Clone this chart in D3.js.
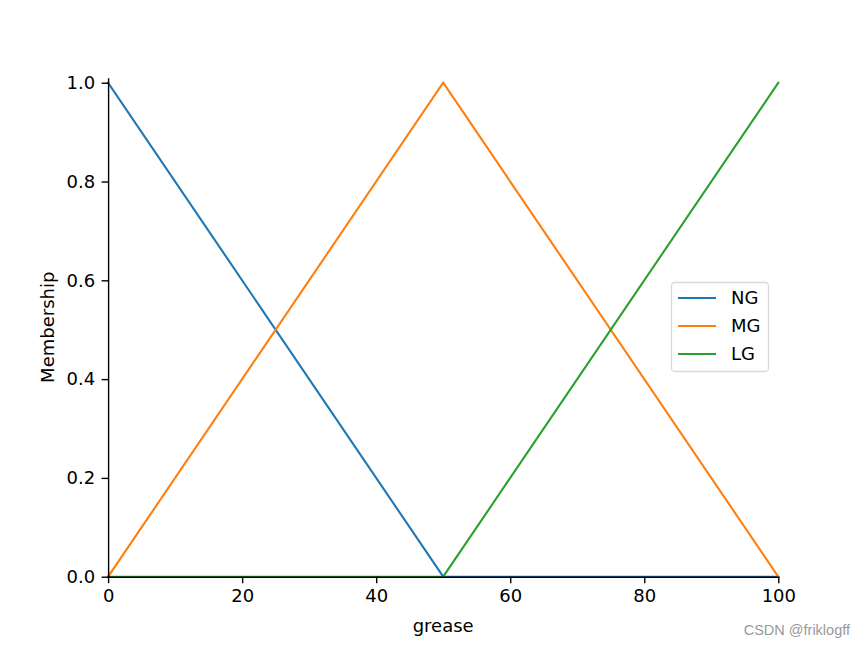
<!DOCTYPE html>
<html>
<head>
<meta charset="utf-8">
<script src="https://cdn.jsdelivr.net/npm/d3@7"></script>
<style>
html,body{margin:0;padding:0;background:#fff;}
svg{display:block;}
</style>
</head>
<body>
<svg id="chart" width="865" height="648"></svg>
<script>
const universe = [0, 50, 100];
const seriesNames = ["NG", "MG", "LG"];
const NG = [1, 0, 0];
const MG = [0, 1, 0];
const LG = [0, 0, 1];
const seriesValues = [NG, MG, LG];
const colors = ["#1f77b4", "#ff7f0e", "#2ca02c"];
const xTicks = [0, 20, 40, 60, 80, 100];
const yTicks = [0.0, 0.2, 0.4, 0.6, 0.8, 1.0];
const xLabel = "grease";
const yLabel = "Membership";
const watermark = "CSDN @friklogff";

const mLeft = 108.1, mRight = 778.3, mTop = 77.8, mBottom = 576.7;
const svg = d3.select("#chart");
const font = "DejaVu Sans, sans-serif";
const fs = 18;

const x = d3.scaleLinear().domain([0, 100]).range([mLeft, mRight]);
const y = d3.scaleLinear().domain([0, 1.01]).range([mBottom, mTop]);

const line = d3.line().x(d => x(d[0])).y(d => y(d[1]));
seriesValues.forEach((vals, i) => {
  svg.append("path")
    .datum(universe.map((u, j) => [u, vals[j]]))
    .attr("d", line)
    .attr("fill", "none")
    .attr("stroke", colors[i])
    .attr("stroke-width", 2.1)
    .attr("stroke-linecap", "square");
});

const xAxis = svg.append("g").attr("transform", `translate(0,${mBottom})`)
  .call(d3.axisBottom(x).tickValues(xTicks).tickFormat(d3.format("d")).tickSize(6.5).tickPadding(6.5).tickSizeOuter(0));
const yAxis = svg.append("g").attr("transform", `translate(${mLeft},0)`)
  .call(d3.axisLeft(y).tickValues(yTicks).tickFormat(d3.format(".1f")).tickSize(6.5).tickPadding(6.5).tickSizeOuter(0));
[xAxis, yAxis].forEach(a => {
  a.select(".domain").attr("stroke", "#000").attr("stroke-width", 1.4);
  a.selectAll(".tick line").attr("stroke", "#000").attr("stroke-width", 1.4);
  a.selectAll(".tick text").attr("fill", "#000").style("font-family", font).style("font-size", fs + "px");
});

svg.append("text").attr("x", (mLeft + mRight) / 2).attr("y", 632)
  .attr("text-anchor", "middle").style("font-family", font).style("font-size", fs + "px")
  .attr("fill", "#000").text(xLabel);
svg.append("text").attr("transform", `translate(54,${(mTop + mBottom) / 2}) rotate(-90)`)
  .attr("text-anchor", "middle").style("font-family", font).style("font-size", fs + "px")
  .attr("fill", "#000").text(yLabel);

// legend
const lg = svg.append("g");
lg.append("rect").attr("x", 671.5).attr("y", 282.5).attr("width", 97).attr("height", 89)
  .attr("rx", 3.5).attr("fill", "#fff").attr("fill-opacity", 0.8)
  .attr("stroke", "#d9d9d9").attr("stroke-width", 1.3);
seriesNames.forEach((n, i) => {
  const yy = 298 + i * 28;
  lg.append("line").attr("x1", 678).attr("x2", 716).attr("y1", yy).attr("y2", yy)
    .attr("stroke", colors[i]).attr("stroke-width", 2.1);
  lg.append("text").attr("x", 731).attr("y", yy).attr("dy", "0.36em")
    .style("font-family", font).style("font-size", fs + "px").attr("fill", "#000").text(n);
});

svg.append("text").attr("x", 850).attr("y", 635).attr("text-anchor", "end")
  .style("font-family", "Liberation Sans, Arial, sans-serif").style("font-size", "14.5px")
  .attr("fill", "#999").text(watermark);
</script>
</body>
</html>
